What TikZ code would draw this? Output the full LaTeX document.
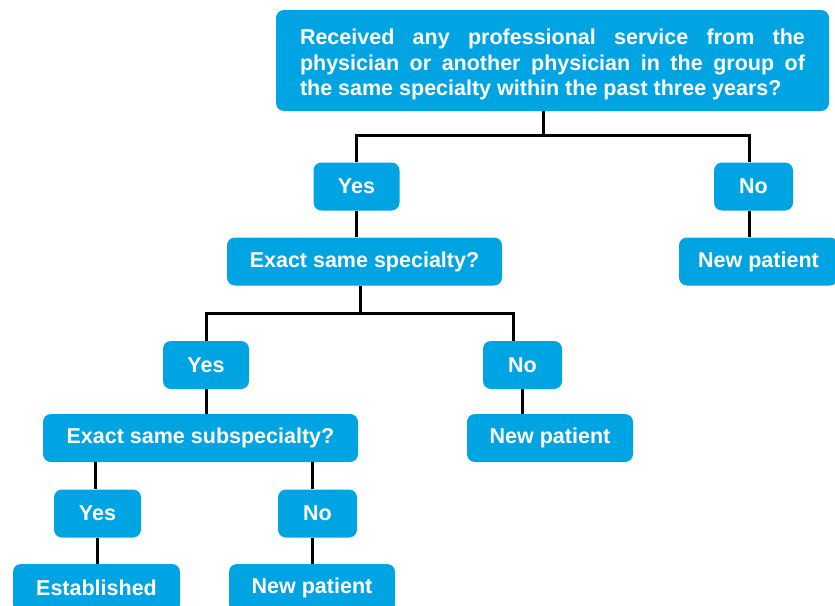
\documentclass[tikz,border=0pt]{standalone}
\usepackage{fontspec}
\setmainfont{Liberation Sans}

\definecolor{boxblue}{RGB}{0,164,226}

\tikzset{
  box/.style={fill=boxblue, rounded corners=8pt, text=white,
    font=\bfseries\fontsize{21.5}{25.5}\selectfont, inner sep=0pt,
    minimum height=48pt},
  link/.style={draw=black, line width=3pt}
}

\begin{document}
\begin{tikzpicture}[x=1pt, y=-1pt]
    \useasboundingbox (0,0) rectangle (835,605);
    \clip (0,0) rectangle (835,605);
    \node [box, minimum width=553pt, minimum height=101pt] (q1) at (552.5,60.5)
        {\parbox{505pt}{\vspace*{8pt}Received any professional service from the\linebreak
        physician or another physician in the group of\linebreak
        the same specialty within the past three years?}};
    \node [box, minimum width=86pt] (yes1) at (356.5,186.5) {Yes};
    \node [box, minimum width=79pt] (no1) at (753.5,186.5) {No};
    \node [box, minimum width=275pt] (q2) at (364.5,261.5) {Exact same specialty?};
    \node [box, minimum width=159pt] (np1) at (758.5,261.5) {New patient};
    \node [box, minimum width=86pt] (yes2) at (206,365) {Yes};
    \node [box, minimum width=79pt] (no2) at (522.5,365) {No};
    \node [box, minimum width=315pt] (q3) at (200.5,438) {Exact same subspecialty?};
    \node [box, minimum width=166pt] (np2) at (550,438) {New patient};
    \node [box, minimum width=87pt] (yes3) at (97.5,513.5) {Yes};
    \node [box, minimum width=79pt] (no3) at (317.5,513.5) {No};
    \node [box, minimum width=167pt] (est) at (96.5,588) {Established};
    \node [box, minimum width=166pt] (np3) at (312,588) {New patient};
    \coordinate (b1) at (543,135);
    \coordinate (b2) at (360,313);
    \draw [link] (b1 |- q1.south) -- (b1);
    \draw [link] (yes1.north) |- (b1) -| ([xshift=-4pt]no1.north);
    \draw [link] (yes1.south) -- (yes1.south |- q2.north);
    \draw [link] ([xshift=-4pt]no1.south) -- ([xshift=-4pt]no1.south |- np1.north);
    \draw [link] (b2 |- q2.south) -- (b2);
    \draw [link] (yes2.north) |- (b2) -| ([xshift=-9pt]no2.north);
    \draw [link] (yes2.south) -- (yes2.south |- q3.north);
    \draw [link] (no2.south) -- (no2.south |- np2.north);
    \draw [link] ([xshift=-2pt]yes3.north) -- ([xshift=-2pt]yes3.north |- q3.south);
    \draw [link] ([xshift=-5pt]no3.north) -- ([xshift=-5pt]no3.north |- q3.south);
    \draw [link] (yes3.south) -- (yes3.south |- est.north);
    \draw [link] ([xshift=-5pt]no3.south) -- ([xshift=-5pt]no3.south |- np3.north);
\end{tikzpicture}
\end{document}
